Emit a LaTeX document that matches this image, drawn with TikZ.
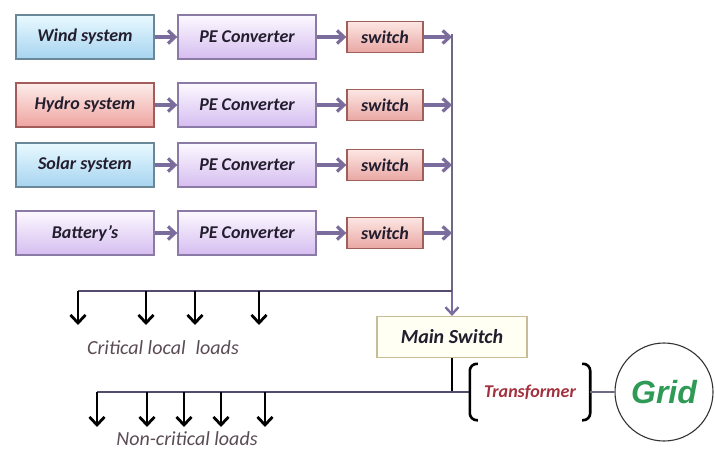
\documentclass[tikz,border=0pt]{standalone}
\usepackage{fontspec}
\setmainfont{Carlito}
\newfontfamily\gridfont{Liberation Sans}
\usetikzlibrary{arrows.meta,calc}
\definecolor{txt}{HTML}{231E2E}
\definecolor{windT}{HTML}{E9FAFF}
\definecolor{windBot}{HTML}{A6D3F0}
\definecolor{windB}{HTML}{6A8898}
\definecolor{hydroT}{HTML}{FDEDEA}
\definecolor{hydroBot}{HTML}{EFA3A0}
\definecolor{hydroB}{HTML}{A35B5B}
\definecolor{peT}{HTML}{FDF9FF}
\definecolor{peBot}{HTML}{D5BDF0}
\definecolor{peB}{HTML}{8B7AA6}
\definecolor{swT}{HTML}{FCE6E3}
\definecolor{swBot}{HTML}{E9A7A3}
\definecolor{swB}{HTML}{9E5E5A}
\definecolor{msFill}{HTML}{FFFFF4}
\definecolor{msB}{HTML}{C8BC96}
\definecolor{arrC}{HTML}{7A6C9C}
\definecolor{busC}{HTML}{6E6882}
\definecolor{cbusC}{HTML}{554B6E}
\definecolor{trC}{HTML}{A3303D}
\definecolor{gridG}{HTML}{2E9A55}
\definecolor{loadC}{HTML}{5A4C55}
\newcommand\boxfont{\fontsize{18}{20}\selectfont\bfseries\itshape}
\newcommand\msfont{\fontsize{20}{22}\selectfont\bfseries\itshape}
\newcommand\loadfont{\fontsize{20}{22}\selectfont\itshape}
\tikzset{
  src/.style={draw, line width=1.3pt, minimum width=138pt, minimum height=44pt, inner sep=0pt, font=\boxfont, text=txt},
  windbox/.style={src, draw=windB, top color=windT, bottom color=windBot},
  hydrobox/.style={src, draw=hydroB, top color=hydroT, bottom color=hydroBot},
  pebox/.style={src, draw=peB, top color=peT, bottom color=peBot},
  swbox/.style={src, minimum width=76pt, minimum height=31pt, draw=swB, top color=swT, bottom color=swBot},
  msbox/.style={draw=msB, fill=msFill, line width=1.1pt, minimum width=150pt, minimum height=41pt, inner sep=0pt, font=\msfont, text=txt},
  parr/.style={draw=arrC, line width=3.2pt, -{Straight Barb[length=7pt,width=13pt]}},
  busline/.style={draw=busC, line width=2.4pt},
  cbus/.style={draw=cbusC, line width=2.8pt},
  larr/.style={draw=black, line width=2.8pt, -{Straight Barb[length=8pt,width=15pt]}},
  blk/.style={draw=black, line width=2.6pt},
  loadlbl/.style={font=\loadfont, text=loadC, inner sep=0pt},
  brk/.style={draw=black, line width=2.6pt, rounded corners=7pt},
  glink/.style={draw=busC, line width=2.2pt},
}
\begin{document}
\begin{tikzpicture}[x=1pt,y=-1pt]
\useasboundingbox[fill=white] (0,0) rectangle (715,452);
% row 1
\node[windbox] (wind) at (85,37) {Wind system};
\node[pebox] (pe1) at (247,37) {PE Converter};
\node[swbox] (sw1) at (385,37) {switch};
% row 2
\node[hydrobox] (hydro) at (85,105) {Hydro system};
\node[pebox] (pe2) at (247,105) {PE Converter};
\node[swbox] (sw2) at (385,105) {switch};
% row 3
\node[windbox] (solar) at (85,165) {Solar system};
\node[pebox] (pe3) at (247,165) {PE Converter};
\node[swbox] (sw3) at (385,165) {switch};
% row 4
\node[pebox] (batt) at (85,233) {Battery's};
\node[pebox] (pe4) at (247,233) {PE Converter};
\node[swbox] (sw4) at (385,233) {switch};
% arrows
\draw[parr] (wind) -- (pe1);
\draw[parr] (pe1) -- (sw1);
\draw[parr] (hydro) -- (pe2);
\draw[parr] (pe2) -- (sw2);
\draw[parr] (solar) -- (pe3);
\draw[parr] (pe3) -- (sw3);
\draw[parr] (batt) -- (pe4);
\draw[parr] (pe4) -- (sw4);
% main bus
\coordinate (bt) at (452,34);
\coordinate (cj) at (452,291);
\node[msbox] (ms) at (452,337) {Main Switch};
\draw[busline] (bt) -- (cj);
\draw[busline, draw=arrC, -{Straight Barb[length=7pt,width=13pt]}] (cj) -- (ms.north);
\draw[parr] (sw1.east) -- (sw1.east -| bt);
\draw[parr] (sw2.east) -- (sw2.east -| bt);
\draw[parr] (sw3.east) -- (sw3.east -| bt);
\draw[parr] (sw4.east) -- (sw4.east -| bt);
% critical loads
\coordinate (cl) at (78,291);
\draw[cbus] (cj) -- (cl);
\foreach \x/\n in {78/a,146/b,195/c,259/d}{
  \coordinate (cs\n) at (\x,291);
  \coordinate (ce\n) at (\x,325);
  \draw[larr] (cs\n) -- (ce\n);
}
\node[loadlbl] (crit) at (163,348) {Critical local\enspace loads};
% transformer and grid
\node[font=\boxfont, text=trC, minimum width=120pt, minimum height=56pt, inner sep=0pt] (tr) at (530,392) {Transformer};
\coordinate (nj) at (452,392);
\draw[blk] (ms.south) -- (nj);
\coordinate (nl) at (97,392);
\draw[cbus] (nl) -- (tr.west);
\draw[brk] ([xshift=8pt]tr.north west) -- (tr.north west) -- (tr.south west) -- ([xshift=8pt]tr.south west);
\draw[brk] ([xshift=-8pt]tr.north east) -- (tr.north east) -- (tr.south east) -- ([xshift=-8pt]tr.south east);
\node[circle, draw=black!80, line width=1.1pt, fill=white, minimum size=98pt, inner sep=0pt, font=\gridfont\fontsize{32}{34}\selectfont\bfseries\itshape, text=gridG] (grid) at (664,392) {Grid};
\draw[glink] (tr.east) -- (grid.west);
% non-critical loads
\foreach \x/\n in {97/a,147/b,184/c,221/d,265/e}{
  \coordinate (ns\n) at (\x,392);
  \coordinate (ne\n) at (\x,427);
  \draw[larr] (ns\n) -- (ne\n);
}
\node[loadlbl] (ncrit) at (187,439) {Non-critical loads};
\end{tikzpicture}
\end{document}
